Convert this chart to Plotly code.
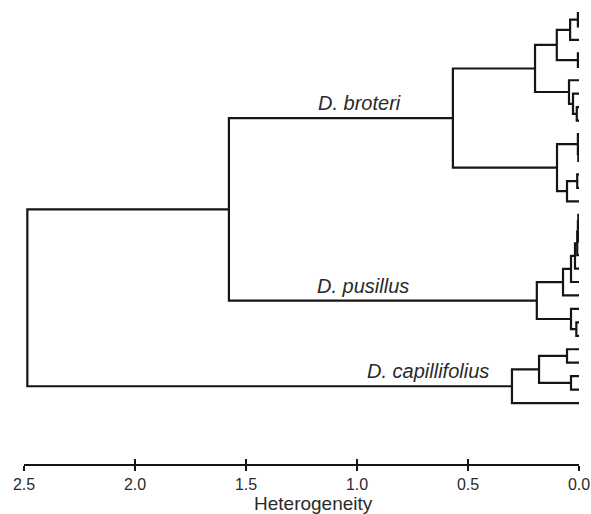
import plotly.graph_objects as go

# ---------------- data ----------------
# 30 leaves, ordered top to bottom (index = rank)
n_leaves = 30
# scipy-style linkage: node id = 30 + row index
link_left = [0, 30, 3, 31, 7, 6, 5, 33, 10, 9, 12, 40, 39, 37,
             15, 44, 45, 46, 47, 48, 23, 22, 49, 43,
             25, 27, 54, 56, 53]
link_right = [1, 2, 4, 32, 8, 34, 35, 36, 11, 38, 13, 14, 41, 42,
              16, 17, 18, 19, 20, 21, 24, 50, 51, 52,
              26, 28, 55, 29, 57]
link_height = [0.005, 0.040, 0.005, 0.100, 0.010, 0.027, 0.045, 0.198,
               0.003, 0.005, 0.008, 0.054, 0.099, 0.568,
               0.003, 0.005, 0.008, 0.018, 0.036, 0.072, 0.012, 0.036,
               0.190, 1.577,
               0.054, 0.036, 0.180, 0.302, 2.485]

clade_names = ["D. broteri", "D. pusillus", "D. capillifolius"]
clade_nodes = [43, 52, 57]

tick_vals = [2.5, 2.0, 1.5, 1.0, 0.5, 0.0]
tick_text = ["2.5", "2.0", "1.5", "1.0", "0.5", "0.0"]
axis_title = "Heterogeneity"

# ---------------- layout helpers ----------------
label_x = [0.991, 0.973, 0.68]   # label centre along branch (axis units)
FONT = "Liberation Sans, Arial, Helvetica, sans-serif"
INK = "#151515"
TXT = "#2a2a2a"

# ---------------- compute dendrogram geometry ----------------
pos = {i: float(i) for i in range(n_leaves)}
hgt = {i: 0.0 for i in range(n_leaves)}
xs, ys = [], []
for k, (a, b, h) in enumerate(zip(link_left, link_right, link_height)):
    nid = n_leaves + k
    ya, yb = pos[a], pos[b]
    xs += [hgt[a], h, h, hgt[b], None]
    ys += [ya, ya, yb, yb, None]
    pos[nid] = (ya + yb) / 2
    hgt[nid] = h

fig = go.Figure()
fig.add_trace(go.Scatter(x=xs, y=ys, mode="lines",
                         line=dict(color=INK, width=2.2),
                         hoverinfo="skip", showlegend=False))
# invisible trace to activate the overlay axis (inner half of ticks)
fig.add_trace(go.Scatter(x=[None], y=[None], xaxis="x2", yaxis="y",
                         mode="lines", showlegend=False, hoverinfo="skip"))

for name, node, lx in zip(clade_names, clade_nodes, label_x):
    fig.add_annotation(x=lx, y=pos[node], xref="x", yref="y",
                       text=f"<i>{name}</i>", showarrow=False,
                       xanchor="center", yanchor="bottom", yshift=2,
                       font=dict(family=FONT, size=20, color=TXT))

W, H = 591, 514
top_px, bot_px = 0, 464
leaf0_px, leaf_step = 13.0, 13.45
y_top = (top_px - leaf0_px) / leaf_step
y_bot = (bot_px - leaf0_px) / leaf_step

title_top_px = 491
fig.add_annotation(x=(313 - 24) / 555, y=(H - title_top_px - (H - bot_px)) / bot_px,
                   xref="paper", yref="paper",
                   text=axis_title, showarrow=False, xanchor="center",
                   yanchor="top", font=dict(family=FONT, size=19, color=TXT))

common_x = dict(range=[2.5, 0.0], autorange=False, showgrid=False,
                zeroline=False, tickvals=tick_vals, ticktext=tick_text,
                linecolor=INK, linewidth=2, tickcolor=INK, tickwidth=2,
                ticklen=5)
fig.update_layout(
    width=W, height=H, autosize=False,
    margin=dict(l=24, r=12, t=0, b=H - bot_px, pad=0),
    paper_bgcolor="white", plot_bgcolor="white",
    font=dict(family=FONT, color=TXT),
    xaxis=dict(**common_x, showline=True, ticks="outside",
               tickfont=dict(family=FONT, size=16, color=TXT)),
    xaxis2=dict(**common_x, overlaying="x", anchor="y", side="bottom",
                showline=False, ticks="inside", showticklabels=False),
    yaxis=dict(range=[y_bot, y_top], autorange=False, visible=False,
               showgrid=False, zeroline=False),
)

fig.write_html("out.html")
